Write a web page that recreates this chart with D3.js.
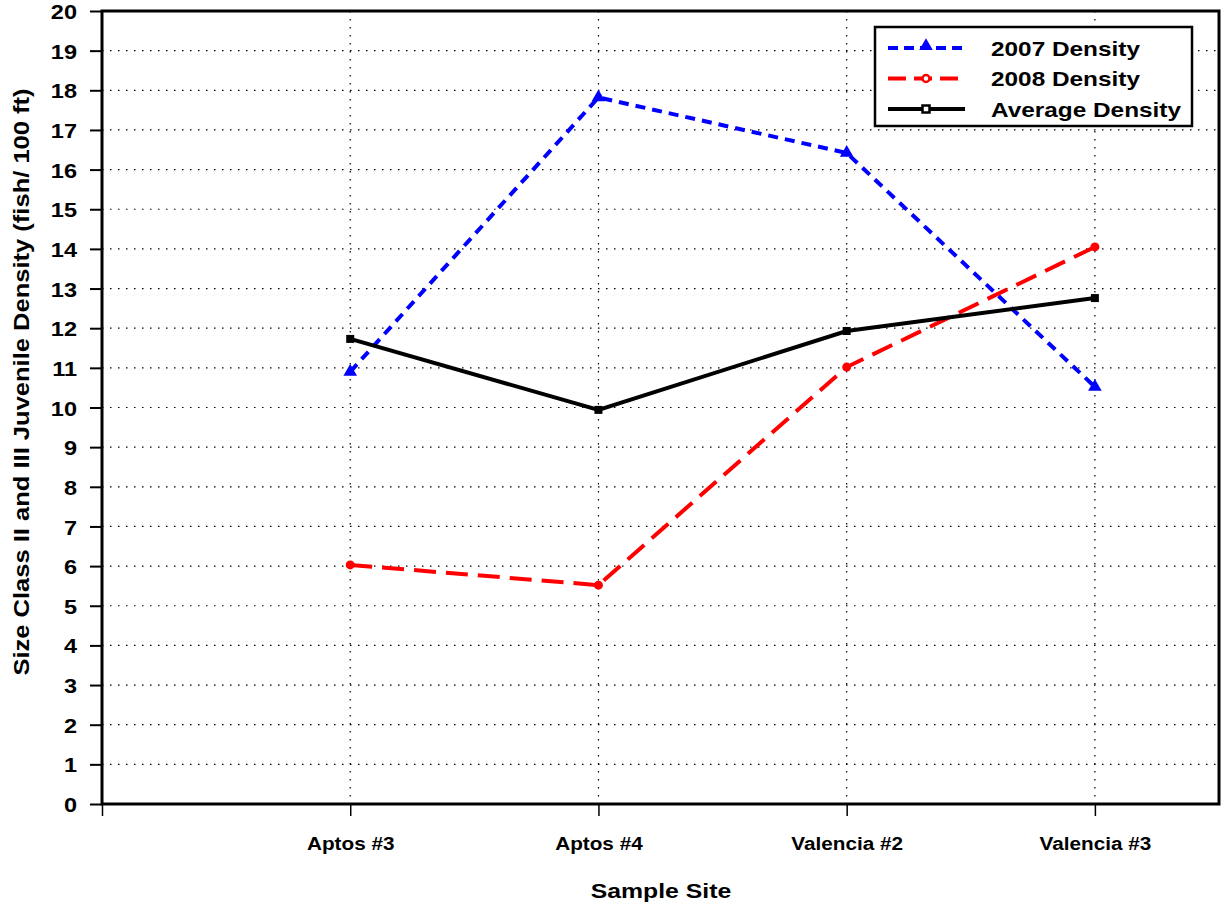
<!DOCTYPE html>
<html><head><meta charset="utf-8">
<script src="https://cdn.jsdelivr.net/npm/d3@7"></script>
<style>body{margin:0;background:#fff;} svg{display:block;font-family:"Liberation Sans",Arial,sans-serif;}</style>
</head><body>
<svg id="c" width="1225" height="907"></svg>
<script>
const categories = ["Aptos #3","Aptos #4","Valencia #2","Valencia #3"];
const density2007 = [10.9, 17.82, 16.42, 10.52];
const density2008 = [6.03, 5.52, 11.02, 14.05];
const densityAvg = [11.73, 9.94, 11.93, 12.76];
const yTicks = d3.range(0, 21);
const seriesNames = ["2007 Density","2008 Density","Average Density"];

const svg = d3.select("#c");
const L = 102, R = 1219, T = 11, B = 804;
const x = d3.scaleLinear().domain([0, 4.5]).range([L, R]);
const y = d3.scaleLinear().domain([0, 20]).range([B, T]);

function stretch(sel, f) {
  sel.each(function() {
    const w = this.getComputedTextLength();
    if (w > 0) d3.select(this).attr("textLength", w * f).attr("lengthAdjust", "spacingAndGlyphs");
  });
}

// grid
const g = svg.append("g");
g.selectAll(".hg").data(yTicks.slice(1, -1)).enter().append("line")
  .attr("x1", L).attr("x2", R).attr("y1", d => y(d)).attr("y2", d => y(d))
  .attr("stroke", "#000").attr("stroke-width", 1.2).attr("stroke-dasharray", "1.5,6.5");
g.selectAll(".vg").data(categories).enter().append("line")
  .attr("x1", (d,i) => x(i+1)).attr("x2", (d,i) => x(i+1)).attr("y1", T).attr("y2", B)
  .attr("stroke", "#000").attr("stroke-width", 1.2).attr("stroke-dasharray", "1.5,6.5");

// axes
const yAxis = d3.axisLeft(y).tickValues(yTicks).tickSize(12).tickPadding(13).tickFormat(d3.format("d"));
const ya = svg.append("g").attr("transform", `translate(${L},0)`).call(yAxis);
ya.select(".domain").remove();
ya.selectAll("line").attr("stroke-width", 2);
ya.selectAll("text").attr("font-size", 21).attr("font-weight", "bold").attr("fill", "#000").attr("dy", "0.36em")
  .call(stretch, 1.12);

const xAxis = d3.axisBottom(x).tickValues([0,1,2,3,4]).tickSize(12).tickPadding(21)
  .tickFormat(d => d === 0 ? "" : categories[d-1]);
const xa = svg.append("g").attr("transform", `translate(0,${B})`).call(xAxis);
xa.select(".domain").remove();
xa.selectAll("line").attr("stroke-width", 1.5);
xa.selectAll("text").attr("font-size", 18).attr("font-weight", "bold").attr("fill", "#000")
  .call(stretch, 1.15);

// frame
svg.append("rect").attr("x", L).attr("y", T).attr("width", R-L).attr("height", B-T)
  .attr("fill", "none").attr("stroke", "#000").attr("stroke-width", 3);

// titles
svg.append("text").attr("x", 661).attr("y", 898).attr("text-anchor","middle")
  .attr("font-size", 21).attr("font-weight","bold").text("Sample Site").call(stretch, 1.18);
svg.append("text").attr("transform", `translate(29,382) rotate(-90)`).attr("text-anchor","middle")
  .attr("font-size", 22).attr("font-weight","bold").text("Size Class II and III Juvenile Density (fish/ 100 ft)")
  .call(stretch, 1.16);

// series
const line = d3.line().x((d,i) => x(i+1)).y(d => y(d));
const series = [
  {name: seriesNames[0], data: density2007, color: "#0000ff", dash: "10,7", marker: "tri"},
  {name: seriesNames[1], data: density2008, color: "#ff0000", dash: "22,10", marker: "circ"},
  {name: seriesNames[2], data: densityAvg, color: "#000000", dash: null, marker: "sq"}
];
function marker(sel, type, color, cx, cy, hollow) {
  if (type === "tri") {
    sel.append("path").attr("d", d3.symbol(d3.symbolTriangle, hollow ? 95 : 80)()).attr("transform", `translate(${cx},${cy})`)
      .attr("fill", color);
  } else if (type === "circ") {
    sel.append("circle").attr("cx", cx).attr("cy", cy).attr("r", hollow ? 3.5 : 4.5)
      .attr("fill", hollow ? "#fff" : color).attr("stroke", color).attr("stroke-width", hollow ? 2.5 : 0);
  } else {
    if (hollow) sel.append("rect").attr("x", cx-3.5).attr("y", cy-3.5).attr("width", 7).attr("height", 7)
      .attr("fill", "#fff").attr("stroke", color).attr("stroke-width", 2.5);
    else sel.append("rect").attr("x", cx-4).attr("y", cy-4).attr("width", 8).attr("height", 8).attr("fill", color);
  }
}
series.forEach(s => {
  svg.append("path").datum(s.data).attr("d", line).attr("fill","none").attr("stroke", s.color)
    .attr("stroke-width", 4).attr("stroke-dasharray", s.dash);
  s.data.forEach((v,i) => marker(svg, s.marker, s.color, x(i+1), y(v), false));
});

// legend
const lg = svg.append("g");
lg.append("rect").attr("x", 875).attr("y", 27).attr("width", 317).attr("height", 99)
  .attr("fill", "#fff").attr("stroke", "#000").attr("stroke-width", 2.5);
series.forEach((s,i) => {
  const yy = 48 + i*30.5;
  lg.append("line").attr("x1", 888).attr("x2", 965).attr("y1", yy).attr("y2", yy)
    .attr("stroke", s.color).attr("stroke-width", 4)
    .attr("stroke-dasharray", s.dash ? (i===0 ? "10,6" : "18,8") : null);
  marker(lg, s.marker, s.color, 926, yy - (s.marker === "tri" ? 2 : 0), s.marker !== "tri");
  lg.append("text").attr("x", 991).attr("y", yy).attr("dy", "0.36em").attr("font-size", 21)
    .attr("font-weight","bold").text(s.name).call(stretch, 1.16);
});
</script>
</body></html>
